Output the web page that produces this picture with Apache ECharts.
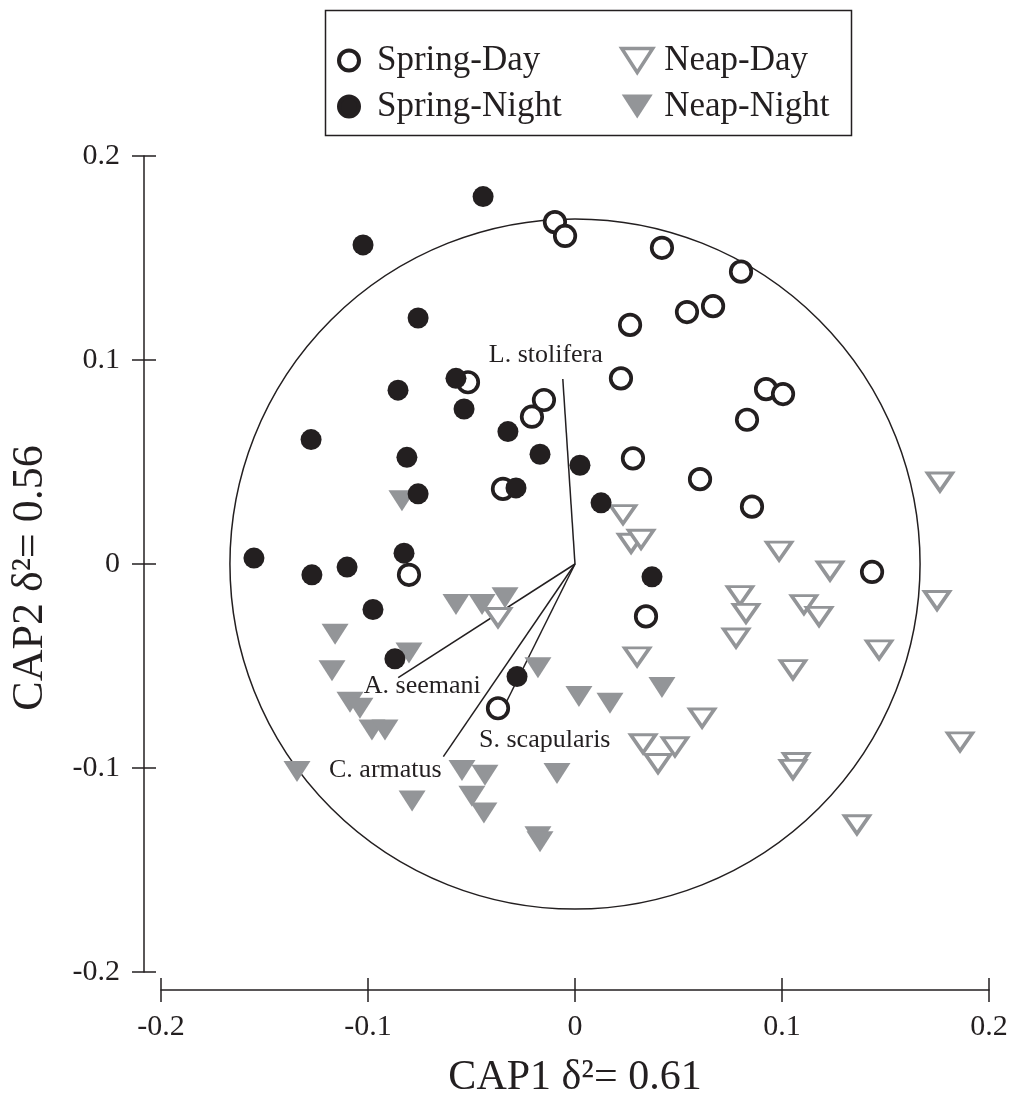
<!DOCTYPE html>
<html><head><meta charset="utf-8">
<script src="https://cdn.jsdelivr.net/npm/echarts@6/dist/echarts.min.js"></script>
<style>html,body{margin:0;padding:0;background:#fff}#c{width:1011px;height:1104px}</style>
</head><body><div id="c"></div>
<script>
// ---- data (CAP1, CAP2) ----
const springDay = [
  [-0.0097,0.1676],[-0.0048,0.1608],[0.0420,0.1550],[0.0802,0.1433],[0.0541,0.1235],
  [0.0667,0.1264],[0.0266,0.1172],[0.0222,0.0910],[0.0923,0.0857],[0.1005,0.0833],
  [0.0831,0.0707],[0.0280,0.0518],[0.0604,0.0416],[0.0855,0.0281],[0.1435,-0.0039],
  [0.0343,-0.0257],[-0.0517,0.0891],[-0.0208,0.0722],[-0.0150,0.0804],[-0.0348,0.0368],
  [-0.0802,-0.0053],[-0.0372,-0.0707]
];
const springNight = [
  [-0.0444,0.1801],[-0.1024,0.1564],[-0.0758,0.1206],[-0.0855,0.0852],[-0.0575,0.0910],
  [-0.0536,0.0760],[-0.0324,0.0649],[-0.0169,0.0538],[-0.1275,0.0610],[-0.0812,0.0523],
  [-0.0758,0.0344],[-0.0285,0.0373],[0.0024,0.0484],[0.0126,0.0300],[-0.1551,0.0029],
  [-0.1271,-0.0053],[-0.1101,-0.0015],[-0.0826,0.0053],[-0.0976,-0.0223],[-0.0870,-0.0465],
  [-0.0280,-0.0552],[0.0372,-0.0063]
];
const neapDay = [
  [0.0232,0.0242],[0.1763,0.0402],[0.0271,0.0102],[0.0319,0.0121],[0.0986,0.0063],
  [0.1232,-0.0034],[0.0797,-0.0155],[0.0826,-0.0242],[0.0778,-0.0363],[0.1106,-0.0199],
  [0.1179,-0.0257],[0.1749,-0.0179],[0.1469,-0.0421],[0.1053,-0.0518],[0.0300,-0.0455],
  [0.0614,-0.0755],[0.0329,-0.0881],[0.0483,-0.0896],[0.0401,-0.0978],[0.1068,-0.0973],
  [0.1053,-0.1007],[0.1860,-0.0872],[0.1362,-0.1278],[-0.0372,-0.0262]
];
const neapNight = [
  [-0.0836,0.0310],[-0.0575,-0.0199],[-0.0449,-0.0199],[-0.0338,-0.0165],[-0.1159,-0.0344],
  [-0.0802,-0.0436],[-0.1174,-0.0523],[-0.0179,-0.0508],[-0.1087,-0.0678],[-0.1039,-0.0707],
  [-0.0981,-0.0814],[-0.0918,-0.0814],[-0.1343,-0.1017],[-0.0546,-0.1012],[-0.0435,-0.1036],
  [-0.0087,-0.1027],[-0.0787,-0.1162],[-0.0498,-0.1138],[-0.0440,-0.1220],[-0.0179,-0.1337],
  [-0.0169,-0.1361],[0.0420,-0.0605],[0.0019,-0.0649],[0.0169,-0.0683]
];
const vectorNames = ['L. stolifera','A. seemani','C. armatus','S. scapularis'];
const vectorEnds = [[-0.0059,0.0907],[-0.0854,-0.0557],[-0.0636,-0.0944],[-0.0349,-0.0712]];
const circleRadius = 0.1667;
const axisMin = -0.2, axisMax = 0.2, axisStep = 0.1;
const xTitle = 'CAP1 δ²= 0.61';
const yTitle = 'CAP2 δ²= 0.56';

// ---- styles ----
const BLACK = '#231f20', GRAY = '#939598';
const FONT = '"Liberation Serif", "Times New Roman", serif';
const TRI = 'path://M0,0L20,0L10,15.5Z';
const labelOffsets = {'L. stolifera':[-17,-24],'A. seemani':[24,9],'C. armatus':[-58,14],'S. scapularis':[42,31]};

const chart = echarts.init(document.getElementById('c'), null, {renderer:'canvas'});

function baseAxis(isX, inside, showLabel){
  return {
    type:'value', min:axisMin, max:axisMax, interval:axisStep,
    position: isX ? 'bottom' : 'left', offset: isX ? 18 : 17,
    splitLine:{show:false},
    axisLine:{show:!inside, onZero:false, lineStyle:{color:BLACK, width:1.5}},
    axisTick:{show:true, inside:inside, length:12, lineStyle:{color:BLACK, width:1.5}},
    axisLabel:{show:showLabel, color:BLACK, fontFamily:FONT, fontSize:30, margin: isX ? 22 : 24},
    name: showLabel ? (isX ? xTitle : yTitle) : '',
    nameLocation:'middle', nameGap: isX ? 67 : 92,
    nameTextStyle: isX
      ? {color:BLACK, fontFamily:FONT, fontSize:42}
      : {color:BLACK, fontFamily:FONT, fontSize:44, padding:[0,28,0,0]}
  };
}

const option = {
  animation:false,
  backgroundColor:'#fff',
  grid:{left:161, right:22, top:156, bottom:122, containLabel:false},
  xAxis:[baseAxis(true,false,true), baseAxis(true,true,false)],
  yAxis:[baseAxis(false,false,true), baseAxis(false,true,false)],
  legend:[
    {selectedMode:false, orient:'vertical', left:332, top:38, itemGap:11, itemWidth:46, itemHeight:20,
     textStyle:{fontFamily:FONT, fontSize:35, color:BLACK},
     data:[
       {name:'Spring-Day', icon:'circle', itemStyle:{color:'#fff', borderColor:BLACK, borderWidth:4}},
       {name:'Spring-Night', icon:'circle', itemStyle:{color:BLACK, borderColor:BLACK, borderWidth:4}}
     ]},
    {selectedMode:false, orient:'vertical', left:615, top:38, itemGap:11, itemWidth:44, itemHeight:24,
     textStyle:{fontFamily:FONT, fontSize:35, color:BLACK},
     data:[
       {name:'Neap-Day', icon:TRI, itemStyle:{color:'#fff', borderColor:GRAY, borderWidth:3.5}},
       {name:'Neap-Night', icon:TRI, itemStyle:{color:GRAY, borderWidth:0}}
     ]}
  ],
  graphic:[{type:'rect', left:323, top:8, shape:{width:526, height:125},
            style:{fill:'none', stroke:BLACK, lineWidth:1.5}, silent:true}],
  series:[
    {type:'custom', name:'circle', silent:true, z:1, data:[[0,0]],
     renderItem:function(params, api){
       const c = api.coord([0,0]);
       const r = api.size([circleRadius,0])[0];
       return {type:'circle', shape:{cx:c[0], cy:c[1], r:r}, style:{fill:'none', stroke:BLACK, lineWidth:1.5}};
     }},
    {type:'custom', name:'vectors', silent:true, z:2, data:vectorEnds.map((e,i)=>[e[0],e[1],i]),
     renderItem:function(params, api){
       const o = api.coord([0,0]);
       const p = api.coord([api.value(0), api.value(1)]);
       const nm = vectorNames[api.value(2)];
       const off = labelOffsets[nm];
       return {type:'group', children:[
         {type:'line', shape:{x1:o[0], y1:o[1], x2:p[0], y2:p[1]}, style:{stroke:BLACK, lineWidth:1.5}},
         {type:'text', x:p[0]+off[0], y:p[1]+off[1],
          style:{text:nm, fill:BLACK, font:'26px '+FONT, align:'center', verticalAlign:'middle'}}
       ]};
     }},
    {type:'scatter', name:'Neap-Night', data:neapNight, symbol:TRI, symbolSize:[27,21], z:3,
     itemStyle:{color:GRAY, opacity:1}},
    {type:'scatter', name:'Neap-Day', data:neapDay, symbol:TRI, symbolSize:[25,18], z:3,
     itemStyle:{color:'#fff', borderColor:GRAY, borderWidth:3.4, opacity:1}},
    {type:'scatter', name:'Spring-Day', data:springDay, symbol:'circle', symbolSize:20.5, z:4,
     itemStyle:{color:'#fff', borderColor:BLACK, borderWidth:3.7, opacity:1}},
    {type:'scatter', name:'Spring-Night', data:springNight, symbol:'circle', symbolSize:21, z:4,
     itemStyle:{color:BLACK, opacity:1}}
  ]
};
chart.setOption(option);
</script></body></html>
